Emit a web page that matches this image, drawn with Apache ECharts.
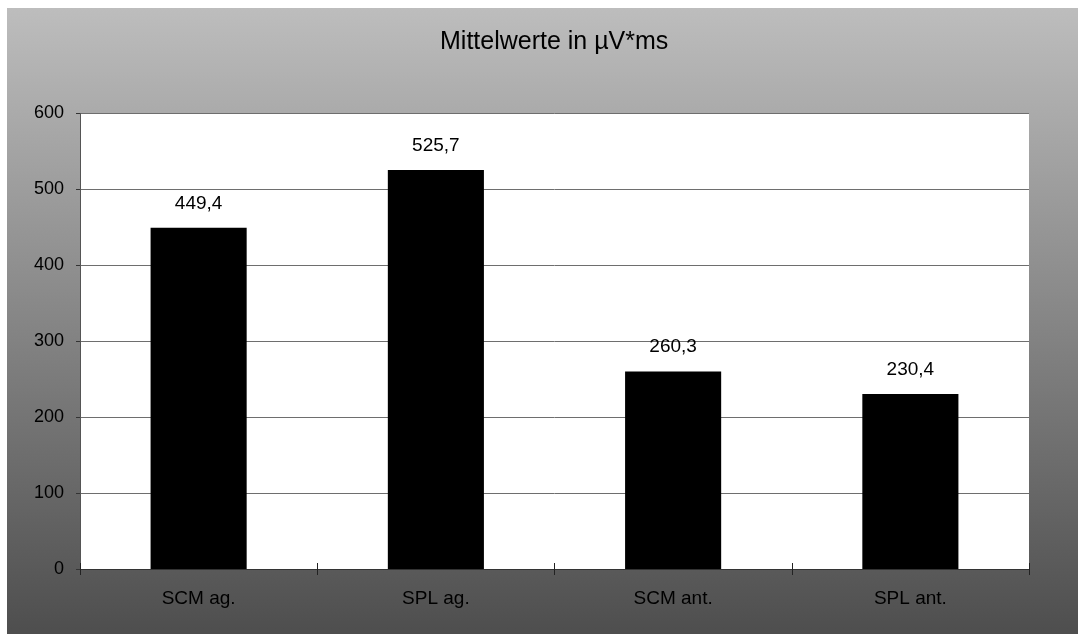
<!DOCTYPE html>
<html>
<head>
<meta charset="utf-8">
<script src="https://cdn.jsdelivr.net/npm/echarts@6/dist/echarts.min.js"></script>
<style>
  html, body { margin: 0; padding: 0; background: #fff; }
  #chart { position: absolute; left: 7px; top: 8px; width: 1071px; height: 626px; }
</style>
</head>
<body>
<div id="chart"></div>
<script>
var titleText = 'Mittelwerte in µV*ms';
var categories = ['SCM ag.', 'SPL ag.', 'SCM ant.', 'SPL ant.'];
var values = [449.4, 525.7, 260.3, 230.4];
var yMin = 0, yMax = 600, yStep = 100;

var font = "'Liberation Sans', Arial, sans-serif";

var chart = echarts.init(document.getElementById('chart'));

var option = {
  animation: false,
  backgroundColor: {
    type: 'linear', x: 0, y: 0, x2: 0, y2: 1,
    colorStops: [
      { offset: 0, color: '#bdbdbd' },
      { offset: 1, color: '#4e4e4e' }
    ]
  },
  title: {
    text: titleText,
    left: 428,
    top: 17,
    textStyle: { fontFamily: font, fontSize: 25, fontWeight: 'normal', color: '#000' }
  },
  grid: {
    left: 73, right: 49, top: 105.5, bottom: 65,
    show: true, backgroundColor: '#fff', borderWidth: 0
  },
  xAxis: [
    {
      type: 'category',
      data: categories,
      position: 'bottom',
      axisLine: { lineStyle: { color: '#333', width: 1 } },
      axisTick: { show: true, alignWithLabel: false, length: 6, lineStyle: { color: '#222' } },
      axisLabel: { margin: 20, fontFamily: font, fontSize: 19, color: '#000' }
    },
    {
      type: 'category',
      data: categories,
      position: 'bottom',
      offset: 0,
      axisLine: { show: false },
      axisTick: { show: true, inside: true, length: 6, lineStyle: { color: '#222' } },
      axisLabel: { show: false }
    }
  ],
  yAxis: {
    type: 'value',
    min: yMin, max: yMax, interval: yStep,
    axisLine: { show: true, lineStyle: { color: '#555', width: 1 } },
    axisTick: { show: true, length: 4, lineStyle: { color: '#333' } },
    axisLabel: { margin: 16, fontFamily: font, fontSize: 18, color: '#000' },
    splitLine: { show: true, lineStyle: { color: '#6e6e6e', width: 1 } }
  },
  series: [{
    type: 'bar',
    data: values,
    barWidth: '40.5%',
    itemStyle: { color: '#000' },
    label: {
      show: true,
      position: 'top',
      distance: 15,
      fontFamily: font,
      fontSize: 19,
      color: '#000',
      formatter: function (p) { return p.value.toFixed(1).replace('.', ','); }
    }
  }]
};

chart.setOption(option);
</script>
</body>
</html>
